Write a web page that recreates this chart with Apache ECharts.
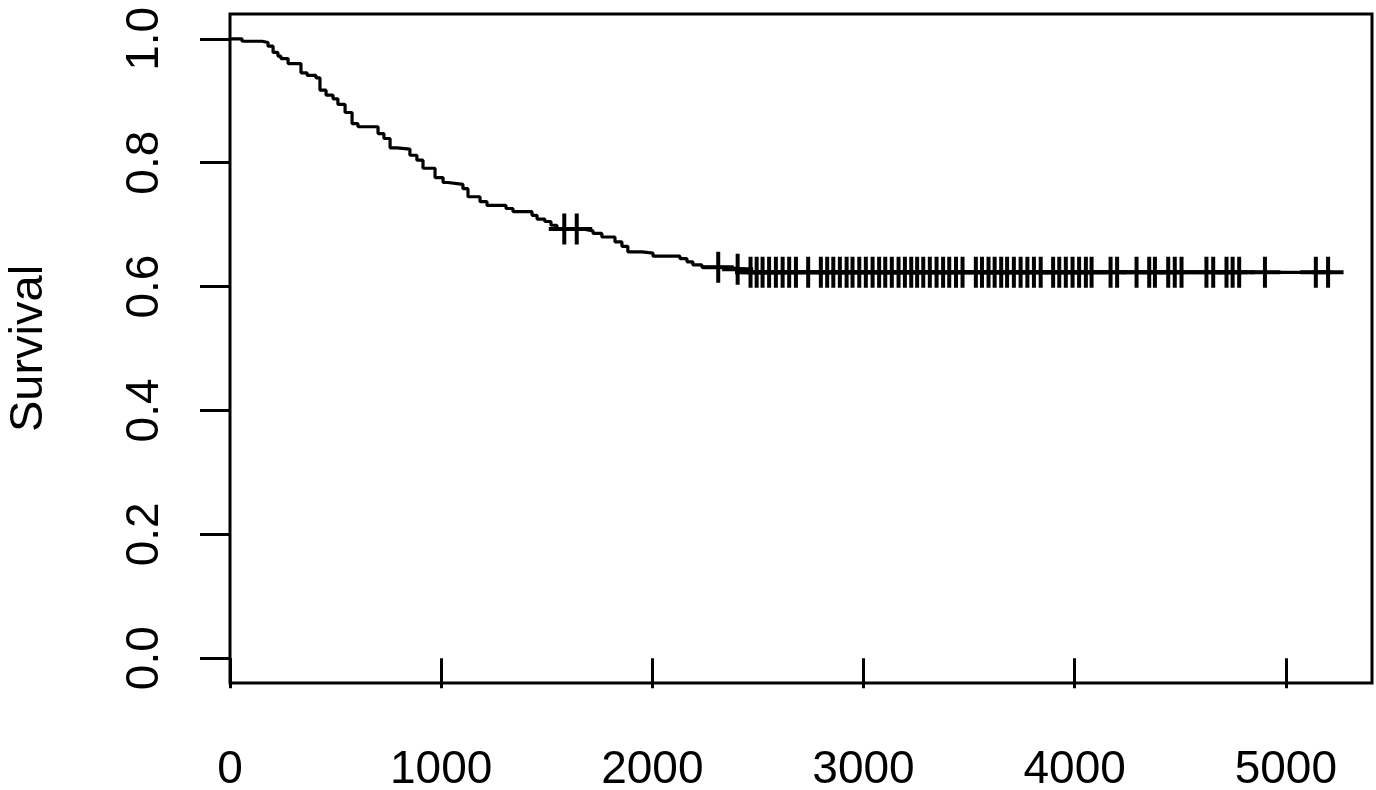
<!DOCTYPE html>
<html>
<head>
<meta charset="utf-8">
<script src="https://cdn.jsdelivr.net/npm/echarts@6/dist/echarts.min.js"></script>
<style>
html,body{margin:0;padding:0;background:#fff;}
#chart{width:1376px;height:790px;}
</style>
</head>
<body>
<div id="chart"></div>
<script>
// Kaplan-Meier event times (days) and survival after each event
const eventTimes = [0,57,152,180,204,227,241,275,336,365,407,426,455,488,511,545,578,606,701,729,758,791,852,885,914,971,1009,1032,1103,1127,1184,1217,1307,1340,1430,1454,1491,1520,1548,1671,1719,1761,1823,1856,1884,1951,2003,2131,2164,2192,2235,2340,2438];
const eventSurv = [1,0.996,0.994,0.988,0.978,0.972,0.968,0.960,0.945,0.941,0.937,0.917,0.909,0.903,0.894,0.881,0.863,0.858,0.847,0.839,0.824,0.822,0.812,0.804,0.791,0.776,0.768,0.765,0.758,0.745,0.737,0.731,0.726,0.721,0.715,0.709,0.705,0.699,0.693,0.690,0.686,0.680,0.672,0.665,0.656,0.654,0.649,0.645,0.640,0.635,0.631,0.628,0.623];
// censored observation times (days)
const censorTimes = [1583,1642,2312,2404,2465,2494,2522,2553,2585,2617,2648,2680,2738,2798,2828,2857,2888,2920,2948,2980,3011,3043,3074,3103,3134,3166,3196,3226,3254,3283,3314,3346,3377,3406,3438,3469,3532,3561,3592,3621,3652,3680,3712,3744,3776,3807,3839,3898,3927,3958,3990,4021,4053,4080,4170,4201,4293,4353,4380,4443,4474,4506,4624,4656,4719,4748,4779,4901,5142,5200];
const xTicks = [0,1000,2000,3000,4000,5000];
const yTicks = [0,0.2,0.4,0.6,0.8,1.0];
const yTitle = 'Survival';

function survAt(t){
  let s = eventSurv[0];
  for (let i = 0; i < eventTimes.length; i++){
    if (eventTimes[i] <= t) s = eventSurv[i]; else break;
  }
  return s;
}
const lastT = censorTimes[censorTimes.length-1];
const lineData = eventTimes.map((t,i)=>[t,eventSurv[i]]);
lineData.push([lastT, survAt(lastT)]);
const censorData = censorTimes.map(t=>[t, survAt(t)]);

const FONT = 'Liberation Sans, Arial, Helvetica, sans-serif';
const chart = echarts.init(document.getElementById('chart'), null, {renderer:'canvas'});
chart.setOption({
  animation:false,
  backgroundColor:'#fff',
  grid:{left:230,right:4,top:14,bottom:107,show:true,borderColor:'#000',borderWidth:3,
        containLabel:false,outerBoundsMode:'none'},
  xAxis:{
    type:'value',min:0,max:5408,
    axisLine:{show:false},
    splitLine:{show:false},
    axisTick:{show:true,customValues:xTicks,length:30,inside:false,lineStyle:{color:'#000',width:3}},
    axisLabel:{show:true,customValues:xTicks,margin:64,fontSize:46,color:'#000',fontFamily:FONT,
      formatter:v=>String(Math.round(v))},
  },
  yAxis:{
    type:'value',min:-0.04,max:1.04,
    name:yTitle,nameLocation:'middle',nameRotate:90,nameGap:177,
    nameTextStyle:{fontSize:47,color:'#000',fontFamily:FONT},
    axisLine:{show:false},
    splitLine:{show:false},
    axisTick:{show:true,customValues:yTicks,length:30,inside:false,lineStyle:{color:'#000',width:3}},
    axisLabel:{show:true,customValues:yTicks,margin:62,rotate:90,fontSize:46,color:'#000',fontFamily:FONT,
      formatter:v=>Number(v).toFixed(1)},
  },
  series:[
    {type:'line',data:lineData,step:'end',showSymbol:false,symbol:'none',
     lineStyle:{color:'#000',width:3.2,opacity:1},silent:true},
    {type:'scatter',data:censorData,symbol:'path://M13.5,0h4v13.5h13.5v4h-13.5v13.5h-4v-13.5h-13.5v-4h13.5z',
     symbolSize:31,itemStyle:{color:'#000',opacity:1},silent:true}
  ]
});
</script>
</body>
</html>
